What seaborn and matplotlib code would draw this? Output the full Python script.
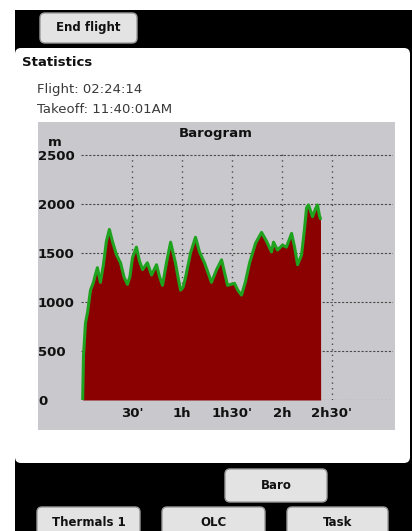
import matplotlib
matplotlib.use('Agg')
import matplotlib.pyplot as plt
from matplotlib.patches import FancyBboxPatch, Rectangle
from matplotlib.transforms import IdentityTransform
import seaborn as sns

# barogram trace, minutes since takeoff vs altitude (m)
minutes = [0, 0.5, 1.7, 3.0, 4.7, 6.5, 7.7, 8.9, 10.7, 12.5, 14.3, 16.1, 17.9, 20.4,
           22.8, 25.0, 27.0, 28.5, 30.0, 32.4, 34.2, 36.1, 39.0, 41.5, 44.5, 46.3,
           48.1, 50.5, 53.0, 55.9, 57.5, 59.0, 60.5, 62.0, 65.0, 68.0, 70.4, 73.4,
           77.6, 80.7, 83.7, 87.3, 91.5, 93.5, 95.7, 98.0, 100.6, 104.2, 107.8,
           110.8, 113.8, 115.0, 117.4, 120.4, 122.8, 125.9, 127.7, 129.5, 131.9,
           133.7, 134.9, 136.1, 138.5, 140.3, 141.5, 142.7, 143.3, 143.4]
altitude = [0, 450, 785, 900, 1120, 1200, 1280, 1350, 1200, 1380, 1620, 1740, 1620, 1480,
            1400, 1250, 1180, 1260, 1450, 1560, 1420, 1330, 1400, 1275, 1380, 1260,
            1170, 1400, 1610, 1400, 1250, 1120, 1150, 1250, 1500, 1660, 1510, 1400,
            1200, 1330, 1430, 1170, 1190, 1120, 1070, 1200, 1400, 1600, 1710,
            1620, 1510, 1610, 1530, 1580, 1560, 1700, 1560, 1380, 1480,
            1750, 1960, 1990, 1870, 1950, 1990, 1880, 1850, 0]

alt_ticks = [0, 500, 1000, 1500, 2000, 2500]
time_ticks = [30, 60, 90, 120, 150]
time_labels = ["30'", "1h", "1h30'", "2h", "2h30'"]

flight_text = 'Flight: 02:24:14'
takeoff_text = 'Takeoff: 11:40:01AM'

W, H = 412, 531
GREY = '#c9c9cd'

sns.set_style('white')
plt.rcParams['font.family'] = ['DejaVu Sans']

fig = plt.figure(figsize=(W / 100, H / 100), dpi=100, facecolor='white')
px = IdentityTransform()


def box(x0, y0, x1, y1, color, r=0, ec='none', lw=0, z=-2):
    # pixel box, measured from the top-left corner
    if r:
        p = FancyBboxPatch((x0, H - y1), x1 - x0, y1 - y0,
                           boxstyle=f'round,pad=0,rounding_size={r}',
                           fc=color, ec=ec, lw=lw, transform=px, zorder=z)
    else:
        p = Rectangle((x0, H - y1), x1 - x0, y1 - y0, fc=color, ec=ec, lw=lw,
                      transform=px, zorder=z)
    fig.add_artist(p)


def label(x, y, s, **kw):
    kw.setdefault('va', 'center')
    fig.text(x / W, 1 - y / H, s, **kw)


# screen background and panel
box(15, 10, W + 5, H + 5, 'black', z=-5)
box(15, 48, 410, 463, 'white', r=6, z=-4)
box(38, 122, 395, 430, GREY, z=-3)

# buttons
for (x0, y0, x1, y1), txt in [((40, 13, 137, 43), 'End flight'),
                              ((225, 469, 327, 502), 'Baro'),
                              ((37, 507, 140, 545), 'Thermals 1'),
                              ((162, 507, 265, 545), 'OLC'),
                              ((287, 507, 388, 545), 'Task')]:
    box(x0, y0, x1, y1, '#e3e3e3', r=5, ec='#9a9a9a', lw=1, z=-2)
    ty = (y0 + y1) / 2 if y1 < H else 523
    label((x0 + x1) / 2, ty, txt, ha='center', fontsize=8.5, fontweight='bold', color='#111111')

label(22, 63, 'Statistics', ha='left', fontsize=9.5, fontweight='bold', color='#111111')
label(37, 90, flight_text, ha='left', fontsize=9.5, color='#3a3a3a')
label(37, 110, takeoff_text, ha='left', fontsize=9.5, color='#3a3a3a')
label(216, 133, 'Barogram', ha='center', fontsize=9.5, fontweight='bold', color='#111111')
label(55, 142, 'm', ha='center', fontsize=9.5, fontweight='bold', color='#111111')

# chart
ax = fig.add_axes([81 / W, 1 - 400 / H, 312 / W, 248 / H])
ax.set_facecolor(GREY)
ax.set_axisbelow(True)
ax.fill_between(minutes, altitude, 0, color='#8b0000', lw=0, zorder=2)
sns.lineplot(x=minutes[:-1], y=altitude[:-1], ax=ax, color='#1fa31f', lw=2.2, zorder=3)

ax.set_xlim(-1.0, 187)
ax.set_ylim(0, 2530)
ax.set_xticks(time_ticks, time_labels)
ax.set_yticks(alt_ticks, [str(v) for v in alt_ticks])
ax.set_xlabel('')
ax.set_ylabel('')
for s in ax.spines.values():
    s.set_visible(False)

ax.yaxis.grid(True, color='#4a4a4a', ls=(0, (2, 1.5)), lw=0.8)
ax.xaxis.grid(True, color='#4a4a4a', ls=(0, (1, 3)), lw=1)

ax.tick_params(length=0, labelsize=9.5, labelcolor='#111111')
ax.tick_params(axis='x', pad=5)
ax.tick_params(axis='y', pad=31)
for t in ax.get_xticklabels() + ax.get_yticklabels():
    t.set_fontweight('bold')
for t in ax.get_yticklabels():
    t.set_ha('left')

fig.savefig('out.png', dpi=100, facecolor=fig.get_facecolor())
